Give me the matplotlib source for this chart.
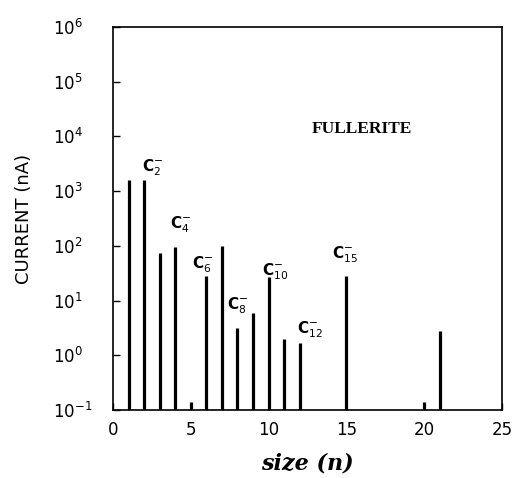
import matplotlib
matplotlib.use("Agg")
import matplotlib.pyplot as plt

sizes = [1, 2, 3, 4, 5, 6, 7, 8, 9, 10, 11, 12, 15, 20, 21]
currents = [1600, 1600, 74, 95, 0.14, 28, 100, 3.1, 6.0, 27, 2.0, 1.7, 28, 0.14, 2.75]

labels = ["C$_{2}^{-}$", "C$_{4}^{-}$", "C$_{6}^{-}$", "C$_{8}^{-}$", "C$_{10}^{-}$", "C$_{12}^{-}$", "C$_{15}^{-}$"]
label_x = [1.86, 3.66, 5.08, 7.33, 9.58, 11.83, 14.08]
label_y = [1740, 158, 29, 5.2, 22, 1.9, 45]

fig = plt.figure(figsize=(5.13, 4.78), dpi=100)
ax = fig.add_axes([0.2203, 0.1423, 0.758, 0.8012])
ax.set_yscale("log")
ax.set_xlim(0, 25)
ax.set_ylim(0.1, 1e6)
ax.vlines(sizes, 0.1, currents, colors="black", linewidth=2.3)

for t, x, y in zip(labels, label_x, label_y):
    ax.text(x, y, t, fontsize=11, ha="left", va="bottom", fontweight="bold")

ax.text(16.0, 1.35e4, "FULLERITE", fontsize=12.5, fontweight="bold",
        family="Liberation Serif", ha="center", va="center")

ax.set_xticks([0, 5, 10, 15, 20, 25])
ax.set_yticks([1e-1, 1, 10, 100, 1e3, 1e4, 1e5, 1e6])
ax.minorticks_off()
ax.tick_params(direction="in", labelsize=12, length=5, width=1)
ax.tick_params(axis="x", pad=8)
ax.tick_params(axis="y", pad=43)
for lab in ax.get_yticklabels():
    lab.set_horizontalalignment("left")
for s in ax.spines.values():
    s.set_linewidth(1.2)

ax.set_ylabel("CURRENT (nA)", fontsize=13)
ax.yaxis.set_label_coords(-0.205, 0.5)
ax.set_xlabel("size (n)", fontsize=16, family="DejaVu Serif", style="italic",
              fontweight="bold", labelpad=10)

fig.savefig("out.png", dpi=100)
